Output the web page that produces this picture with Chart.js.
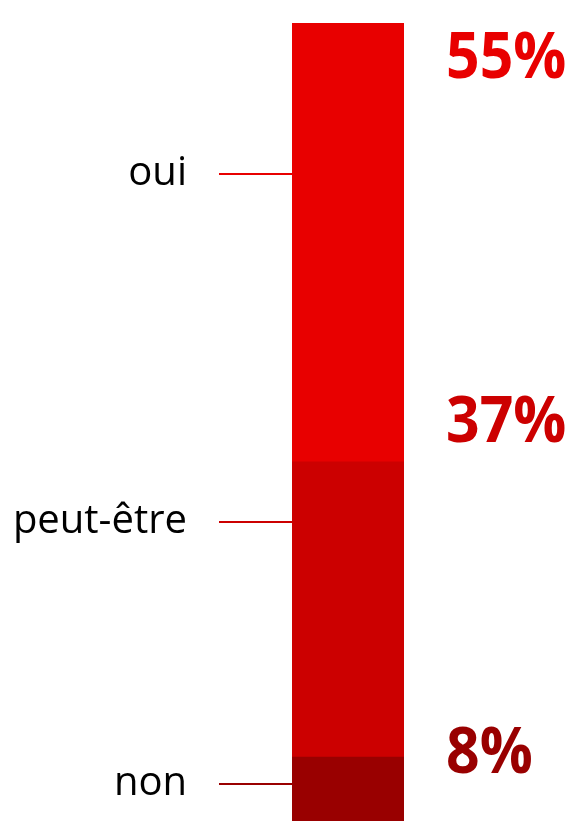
<!DOCTYPE html>
<html>
<head>
<meta charset="utf-8">
<script src="https://cdn.jsdelivr.net/npm/chart.js@4/dist/chart.umd.min.js"></script>
<style>
html,body{margin:0;padding:0;background:#fff;}
#wrap{width:573px;height:821px;position:relative;}
</style>
</head>
<body>
<div id="wrap"><canvas id="c"></canvas></div>
<script>
const categories = ['oui', 'peut-être', 'non'];
const values = [55, 37, 8];
const percentLabels = ['55%', '37%', '8%'];
const colors = ['#e80000', '#cc0000', '#990000'];
// label anchors in data units (where the hand-placed labels sit on the axis)
const labelAnchor = [81.1, 37.5, 4.6];
const percentBaseline = [93.1, 47.5, 6.0];

// stack from bottom: non, peut-être, oui
const datasets = categories.map((c, i) => ({
  label: c,
  data: [values[i]],
  backgroundColor: colors[i],
  borderWidth: 0,
  barPercentage: 1,
  categoryPercentage: 1
})).reverse();

const labelPlugin = {
  id: 'labels',
  afterDatasetsDraw(chart) {
    const ctx = chart.ctx;
    const y = chart.scales.y;
    const area = chart.chartArea;
    ctx.save();
    categories.forEach((c, i) => {
      const py = Math.round(y.getPixelForValue(labelAnchor[i]));
      ctx.strokeStyle = colors[i];
      ctx.lineWidth = 2;
      ctx.beginPath();
      ctx.moveTo(219, py);
      ctx.lineTo(area.left, py);
      ctx.stroke();
      ctx.fillStyle = '#000';
      ctx.font = '40px "Open Sans"';
      ctx.textAlign = 'right';
      ctx.textBaseline = 'alphabetic';
      ctx.fillText(c, 187, py + 11);
      ctx.save();
      ctx.fillStyle = colors[i];
      ctx.font = 'bold 64px "Open Sans"';
      ctx.textAlign = 'left';
      ctx.textBaseline = 'alphabetic';
      ctx.translate(446, y.getPixelForValue(percentBaseline[i]));
      ctx.scale(0.92, 1);
      ctx.fillText(percentLabels[i], 0, 0);
      ctx.restore();
    });
    ctx.restore();
  }
};

new Chart(document.getElementById('c'), {
  type: 'bar',
  data: { labels: [''], datasets },
  options: {
    responsive: true,
    maintainAspectRatio: false,
    animation: false,
    layout: { padding: { left: 292, right: 169, top: 23, bottom: 0 } },
    plugins: { legend: { display: false }, tooltip: { enabled: false } },
    scales: {
      x: { stacked: true, display: false },
      y: { stacked: true, display: false, min: 0, max: 100 }
    }
  },
  plugins: [labelPlugin]
});
</script>
</body>
</html>
